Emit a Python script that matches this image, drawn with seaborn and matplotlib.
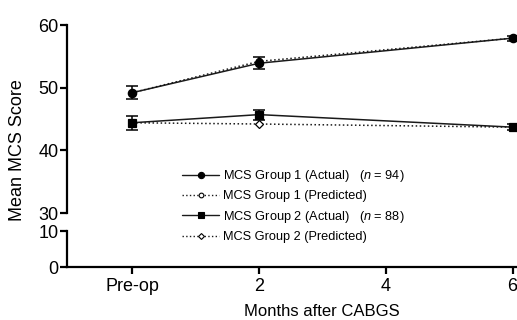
import numpy as np
import pandas as pd
import matplotlib
matplotlib.use("Agg")
import matplotlib.pyplot as plt
import seaborn as sns

# values
months = [0, 2, 6]
x_ticks = [0, 2, 4, 6]
x_ticklabels = ["Pre-op", "2", "4", "6"]

g1_actual = [49.2, 53.9, 57.9]
g1_actual_err = [1.05, 1.0, 0.4]
g1_predicted = [49.2, 54.2, 57.9]

g2_actual = [44.4, 45.7, 43.7]
g2_actual_err = [1.1, 0.8, 0.5]
g2_predicted = [44.4, 44.2, 43.7]

sns.set_style("ticks")
plt.rcParams["font.family"] = ["Liberation Sans", "DejaVu Sans"]
plt.rcParams["text.color"] = "black"
plt.rcParams["mathtext.fontset"] = "custom"
plt.rcParams["mathtext.rm"] = "Liberation Sans"
plt.rcParams["mathtext.it"] = "Liberation Sans:italic"

fig = plt.figure(figsize=(5.17, 3.2), dpi=100)
ax_top = fig.add_axes([67 / 517, 1 - 213 / 320, 450 / 517, 188 / 320])
ax_bot = fig.add_axes([67 / 517, 1 - 267 / 320, 450 / 517, 36 / 320])

# legend order, drawing order handled by zorder (actual above predicted)
series = [
    ("MCS Group 1 (Actual)   ($\\it{n}$ = 94)", g1_actual, g1_actual_err, "-", "o", "black", 6.0, 4),
    ("MCS Group 1 (Predicted)", g1_predicted, None, ":", "o", "white", 4.5, 3),
    ("MCS Group 2 (Actual)   ($\\it{n}$ = 88)", g2_actual, g2_actual_err, "-", "s", "black", 6.0, 4),
    ("MCS Group 2 (Predicted)", g2_predicted, None, ":", "D", "white", 4.0, 3),
]

handles = []
for label, vals, err, ls, mk, fc, ms, z in series:
    df = pd.DataFrame({"month": months, "score": vals})
    sns.lineplot(data=df, x="month", y="score", ax=ax_top, color="#1a1a1a",
                 linestyle=ls, linewidth=1.1, marker=mk, markersize=ms,
                 markerfacecolor=fc, markeredgecolor="black", markeredgewidth=0.9,
                 label=label, legend=False, zorder=z)
    if err is not None:
        ax_top.errorbar(months, vals, yerr=err, fmt="none", ecolor="black",
                        elinewidth=1.1, capsize=4, capthick=1.1, zorder=z)
    h, = ax_top.plot([], [], color="#1a1a1a", linestyle=ls, linewidth=1.0,
                     marker=mk, markersize=ms * 0.75, markerfacecolor=fc,
                     markeredgecolor="black", markeredgewidth=0.8)
    handles.append((h, label))

for ax in (ax_top, ax_bot):
    ax.set_xlim(-1.03, 6.07)
    ax.set_facecolor("none")
    ax.spines["right"].set_visible(False)
    ax.spines["top"].set_visible(False)
    ax.spines["left"].set_linewidth(1.6)
    ax.spines["left"].set_color("black")
    ax.tick_params(axis="both", direction="out", length=5, width=1.6,
                   labelsize=13, colors="black", pad=1)
    ax.set_xlabel("")
    ax.set_ylabel("")

ax_top.set_ylim(30, 60)
ax_top.set_yticks([30, 40, 50, 60])
ax_top.spines["bottom"].set_visible(False)
ax_top.set_xticks([])

ax_bot.set_ylim(0, 10)
ax_bot.set_yticks([0, 10])
ax_bot.spines["bottom"].set_linewidth(1.6)
ax_bot.spines["bottom"].set_color("black")
ax_bot.set_xticks(x_ticks)
ax_bot.set_xticklabels(x_ticklabels)
ax_bot.tick_params(axis="x", pad=3)

fig.text(18 / 517, 1 - 150 / 320, "Mean MCS Score", rotation=90,
         ha="center", va="center", fontsize=13, color="black")
fig.text(322 / 517, 1 - 311 / 320, "Months after CABGS",
         ha="center", va="center", fontsize=12, color="black")

fig.legend([h for h, _ in handles], [l for _, l in handles],
           loc="upper left", bbox_to_anchor=(182 / 517, 1 - 168 / 320),
           frameon=False, fontsize=9.2, handlelength=2.9, handletextpad=0.3,
           labelspacing=0.5, borderpad=0, borderaxespad=0)

fig.savefig("out.png", dpi=100)
